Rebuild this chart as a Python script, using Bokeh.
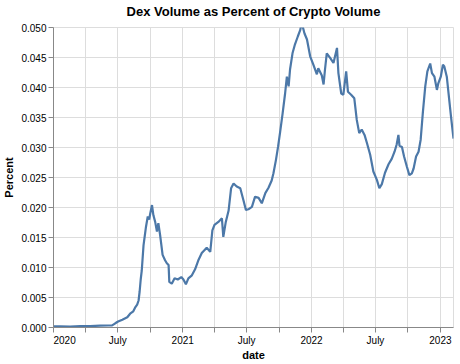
from datetime import datetime, timezone
from bokeh.plotting import figure
from bokeh.models import (ColumnDataSource, Range1d, FixedTicker, NumeralTickFormatter,
                          CustomJSTickFormatter, Title)
from bokeh.embed import file_html
from bokeh.resources import INLINE

dates = [
    "2020-01-01", "2020-01-20", "2020-02-17", "2020-03-17", "2020-04-14", "2020-05-12",
    "2020-06-04", "2020-06-15", "2020-06-24", "2020-07-02", "2020-07-14", "2020-07-28",
    "2020-08-05", "2020-08-14", "2020-08-19", "2020-08-25", "2020-08-29", "2020-09-01",
    "2020-09-04", "2020-09-07", "2020-09-12", "2020-09-19", "2020-09-24", "2020-09-28",
    "2020-10-01", "2020-10-06", "2020-10-10", "2020-10-15", "2020-10-20", "2020-10-24",
    "2020-10-29", "2020-11-05", "2020-11-12", "2020-11-17", "2020-11-22", "2020-11-24",
    "2020-12-01", "2020-12-09", "2020-12-18", "2020-12-28", "2021-01-03", "2021-01-10",
    "2021-01-17", "2021-01-27", "2021-02-05", "2021-02-15", "2021-02-24", "2021-03-10",
    "2021-03-20", "2021-03-26", "2021-04-01", "2021-04-12", "2021-04-22", "2021-04-26",
    "2021-05-03", "2021-05-11", "2021-05-18", "2021-05-25", "2021-06-03", "2021-06-13",
    "2021-06-22", "2021-06-29", "2021-07-06", "2021-07-16", "2021-07-25", "2021-08-04",
    "2021-08-13", "2021-08-23", "2021-09-01", "2021-09-10", "2021-09-15", "2021-09-22",
    "2021-09-28", "2021-10-04", "2021-10-11", "2021-10-18", "2021-10-23", "2021-10-28",
    "2021-11-01", "2021-11-08", "2021-11-15", "2021-11-23", "2021-11-30", "2021-12-04",
    "2021-12-12", "2021-12-19", "2021-12-28", "2022-01-06", "2022-01-16", "2022-01-20",
    "2022-01-30", "2022-02-04", "2022-02-08", "2022-02-13", "2022-02-23", "2022-03-04",
    "2022-03-14", "2022-03-18", "2022-03-26", "2022-04-01", "2022-04-09", "2022-04-14",
    "2022-04-23", "2022-05-02", "2022-05-09", "2022-05-16", "2022-05-23", "2022-05-31",
    "2022-06-07", "2022-06-16", "2022-06-25", "2022-07-05", "2022-07-12", "2022-07-19",
    "2022-07-28", "2022-08-07", "2022-08-16", "2022-08-24", "2022-08-30", "2022-09-04",
    "2022-09-07", "2022-09-14", "2022-09-20", "2022-09-28", "2022-10-05", "2022-10-12",
    "2022-10-17", "2022-10-24", "2022-10-31", "2022-11-06", "2022-11-12", "2022-11-19",
    "2022-11-25", "2022-12-03", "2022-12-08", "2022-12-15", "2022-12-22", "2022-12-26",
    "2023-01-02", "2023-01-08", "2023-01-12", "2023-01-19", "2023-01-26", "2023-01-31",
    "2023-02-07",
]
percent = [
    0.0002, 0.00018, 0.00015, 0.00025, 0.00022, 0.0003,
    0.00033, 0.00035, 0.0007, 0.001, 0.0013, 0.0017,
    0.0023, 0.0027, 0.0033, 0.0038, 0.0045, 0.0060,
    0.0080, 0.0095, 0.0137, 0.0168, 0.0185, 0.0180,
    0.0190, 0.0204, 0.0187, 0.0176, 0.0160, 0.0174,
    0.0154, 0.0121, 0.0112, 0.0107, 0.0104, 0.0076,
    0.0073, 0.0082, 0.0080, 0.0084, 0.0080, 0.0072,
    0.0082, 0.0087, 0.0097, 0.0113, 0.0124, 0.0133,
    0.0126, 0.0162, 0.0171, 0.0176, 0.0182, 0.0151,
    0.0176, 0.0195, 0.0232, 0.0240, 0.0235, 0.0232,
    0.0212, 0.0196, 0.0197, 0.0201, 0.0218, 0.0216,
    0.0207, 0.0224, 0.0233, 0.0245, 0.0257, 0.0279,
    0.0301, 0.0326, 0.0357, 0.0390, 0.0418, 0.0402,
    0.0430, 0.0457, 0.0472, 0.0485, 0.0496, 0.0508,
    0.0490, 0.0480, 0.0452, 0.0438, 0.0422, 0.0432,
    0.0420, 0.0405, 0.0430, 0.0457, 0.0449, 0.0441,
    0.0466, 0.0424, 0.0390, 0.0388, 0.0427, 0.0393,
    0.0388, 0.0382, 0.0346, 0.0324, 0.0330, 0.0321,
    0.0307, 0.0288, 0.0260, 0.0246, 0.0232, 0.0239,
    0.0258, 0.0272, 0.0281, 0.0293, 0.0305, 0.0321,
    0.0303, 0.0301, 0.0285, 0.0268, 0.0254, 0.0257,
    0.0265, 0.0285, 0.0293, 0.0313, 0.0357, 0.0402,
    0.0427, 0.0440, 0.0424, 0.0418, 0.0396, 0.0407,
    0.0418, 0.0438, 0.0435, 0.0418, 0.0379, 0.0351,
    0.0315,
]
x_ticks = ["2020-01-01", "2020-04-01", "2020-07-01", "2020-10-01",
           "2021-01-01", "2021-04-01", "2021-07-01", "2021-10-01",
           "2022-01-01", "2022-04-01", "2022-07-01", "2022-10-01",
           "2023-01-01"]
y_ticks = [0.000, 0.005, 0.010, 0.015, 0.020, 0.025, 0.030, 0.035, 0.040, 0.045, 0.050]
title_text = "Dex Volume as Percent of Crypto Volume"

FONT = "Liberation Sans"


def to_dt(s):
    return datetime.strptime(s, "%Y-%m-%d").replace(tzinfo=timezone.utc)


def to_ms(s):
    return to_dt(s).timestamp() * 1000.0


src = ColumnDataSource(dict(date=[to_dt(d) for d in dates], percent=percent))

p = figure(frame_width=400, frame_height=300, x_axis_type="datetime",
           output_backend="svg", toolbar_location=None,
           x_range=Range1d(to_ms(dates[0]), to_ms(dates[-1])),
           y_range=Range1d(0, 0.05),
           min_border_left=45, min_border_right=7, min_border_top=0, min_border_bottom=10)

p.line("date", "percent", source=src, line_color="#4c78a8", line_width=2.2)

# spacer between title and plot area
p.add_layout(Title(text=" ", text_font=FONT, text_font_size="6px", standoff=0), "above")
p.add_layout(Title(text=title_text, align="center", text_font=FONT, text_font_size="13px",
                   text_font_style="bold", text_color="#000000", standoff=2), "above")

p.outline_line_color = "#dddddd"
p.background_fill_color = "white"
p.border_fill_color = "white"

p.xgrid.grid_line_color = "#dddddd"
p.ygrid.grid_line_color = "#dddddd"

p.xaxis.ticker = FixedTicker(ticks=[to_ms(t) for t in x_ticks])
p.xaxis.formatter = CustomJSTickFormatter(code="""
const d = new Date(tick);
const m = d.getUTCMonth();
const y = d.getUTCFullYear();
if (m == 0 && y == 2020) return "\\u00a0\\u00a0\\u00a0\\u00a0\\u00a0\\u00a0\\u00a0\\u00a02020";
if (m == 0) return String(y);
if (m == 6) return "July";
return "";
""")
p.yaxis.ticker = FixedTicker(ticks=y_ticks)
p.yaxis.formatter = NumeralTickFormatter(format="0.000")

for ax in (p.xaxis, p.yaxis):
    ax.axis_line_color = "#888888"
    ax.major_tick_line_color = "#888888"
    ax.major_tick_out = 5
    ax.major_tick_in = 0
    ax.minor_tick_line_color = None
    ax.major_label_text_font = FONT
    ax.major_label_text_font_size = "10px"
    ax.major_label_text_color = "#000000"
    ax.axis_label_text_font = FONT
    ax.axis_label_text_font_size = "11px"
    ax.axis_label_text_font_style = "bold"
    ax.axis_label_text_color = "#000000"
    ax.major_label_standoff = 2
    ax.axis_label_standoff = 3

p.xaxis.axis_label_standoff = 0
p.xaxis.axis_label = "date"
p.yaxis.axis_label = "Percent"

open("out.html", "w").write(file_html(p, INLINE))
